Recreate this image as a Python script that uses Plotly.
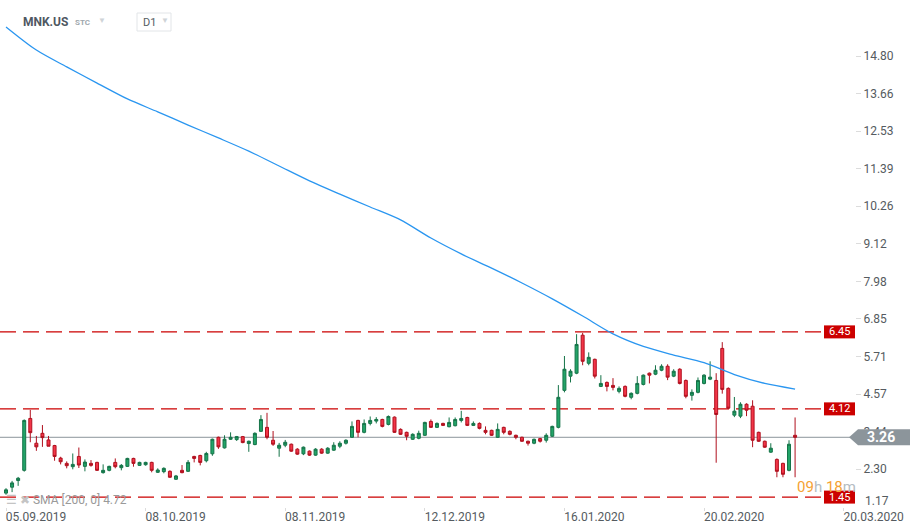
import plotly.graph_objects as go

# ---------------- data ----------------
opens = [1.57, 1.75, 1.95, 2.26, 3.83, 3.08, 3.38, 3.18, 3.01, 2.63,
         2.47, 2.37, 2.68, 2.38, 2.47, 2.50, 2.19, 2.26, 2.50, 2.34,
         2.38, 2.62, 2.41, 2.43, 2.50, 2.20, 2.22, 2.23, 1.99, 2.26,
         2.23, 2.68, 2.71, 2.55, 2.76, 3.26, 2.94, 3.20, 3.19, 3.28,
         3.07, 3.04, 3.44, 3.56, 3.17, 2.93, 3.02, 3.05, 2.90, 2.76,
         2.84, 2.72, 2.90, 2.78, 2.87, 2.99, 3.08, 3.26, 3.77, 3.41,
         3.68, 3.75, 3.80, 3.65, 3.87, 3.50, 3.41, 3.20, 3.23, 3.32,
         3.74, 3.56, 3.68, 3.58, 3.61, 3.77, 3.86, 3.62, 3.68, 3.47,
         3.47, 3.26, 3.56, 3.44, 3.32, 3.26, 3.14, 3.08, 3.22, 3.17,
         3.29, 3.56, 4.68, 5.11, 5.20, 6.35, 5.50, 5.62, 4.80, 4.92,
         4.83, 4.65, 4.80, 4.47, 4.59, 4.86, 5.20, 5.17, 5.29, 5.41,
         5.11, 5.32, 4.98, 4.53, 4.62, 4.89, 5.02, 4.98, 5.95, 4.74,
         3.93, 3.90, 4.26, 4.20, 3.41, 3.14, 2.81, 2.59, 2.47, 2.26,
         3.32]
highs = [1.72, 1.94, 2.06, 3.80, 4.09, 3.30, 3.63, 3.30, 3.03, 2.67,
         2.53, 2.77, 2.95, 2.59, 2.57, 2.52, 2.44, 2.40, 2.62, 2.45,
         2.64, 2.64, 2.52, 2.52, 2.52, 2.32, 2.35, 2.26, 2.12, 2.42,
         2.57, 2.70, 2.73, 2.82, 3.22, 3.28, 3.32, 3.41, 3.30, 3.30,
         3.16, 3.41, 3.93, 4.00, 3.45, 3.09, 3.18, 3.07, 2.93, 2.98,
         2.86, 2.93, 2.93, 2.96, 3.11, 3.14, 3.20, 3.74, 3.79, 3.80,
         3.89, 3.87, 3.82, 3.92, 3.89, 3.53, 3.43, 3.38, 3.46, 3.73,
         3.80, 3.71, 3.70, 3.86, 3.86, 4.06, 3.88, 3.74, 3.71, 3.59,
         3.49, 3.68, 3.58, 3.47, 3.34, 3.28, 3.16, 3.22, 3.24, 3.38,
         3.61, 4.84, 5.72, 5.32, 6.38, 6.42, 5.83, 5.64, 5.14, 4.95,
         5.05, 4.80, 4.83, 4.62, 5.11, 5.16, 5.22, 5.44, 5.47, 5.47,
         5.32, 5.35, 5.01, 4.71, 5.07, 5.17, 5.56, 5.20, 6.14, 4.77,
         4.48, 4.32, 4.29, 4.38, 3.43, 3.16, 3.08, 2.62, 2.49, 3.17,
         3.86]
lows = [1.52, 1.60, 1.79, 2.22, 3.11, 2.85, 2.97, 2.99, 2.55, 2.44,
        2.32, 2.29, 2.33, 2.23, 2.37, 2.24, 2.16, 2.23, 2.32, 2.26,
        2.36, 2.37, 2.39, 2.40, 2.20, 2.18, 2.17, 2.03, 1.97, 2.17,
        2.21, 2.50, 2.41, 2.50, 2.70, 2.91, 2.92, 3.18, 3.15, 3.08,
        2.82, 3.02, 3.42, 3.20, 3.00, 2.67, 2.96, 2.82, 2.73, 2.72,
        2.70, 2.70, 2.76, 2.76, 2.85, 2.93, 3.04, 3.24, 3.26, 3.38,
        3.62, 3.68, 3.56, 3.62, 3.39, 3.33, 3.17, 3.18, 3.20, 3.30,
        3.54, 3.54, 3.60, 3.56, 3.59, 3.71, 3.60, 3.60, 3.50, 3.35,
        3.30, 3.24, 3.35, 3.32, 3.20, 3.12, 3.01, 3.05, 3.10, 3.10,
        3.27, 3.53, 4.62, 4.92, 5.17, 5.44, 5.44, 5.04, 4.78, 4.65,
        4.68, 4.59, 4.47, 4.41, 4.56, 4.83, 4.89, 5.14, 5.26, 4.99,
        5.08, 4.86, 4.44, 4.37, 4.59, 4.86, 4.99, 2.49, 4.58, 4.12,
        3.87, 3.84, 3.90, 2.96, 3.12, 2.94, 2.79, 2.05, 2.05, 2.23,
        2.05]
closes = [1.67, 1.88, 2.02, 3.77, 3.40, 2.97, 3.25, 2.99, 2.68, 2.52,
          2.40, 2.44, 2.42, 2.51, 2.41, 2.26, 2.26, 2.38, 2.37, 2.41,
          2.62, 2.47, 2.50, 2.50, 2.26, 2.27, 2.32, 2.05, 2.09, 2.19,
          2.50, 2.62, 2.50, 2.77, 3.20, 2.97, 3.20, 3.26, 3.28, 3.10,
          3.14, 3.38, 3.80, 3.26, 3.05, 3.02, 3.11, 2.84, 2.75, 2.96,
          2.72, 2.90, 2.78, 2.93, 3.02, 3.08, 3.17, 3.59, 3.41, 3.68,
          3.77, 3.80, 3.59, 3.89, 3.41, 3.35, 3.29, 3.35, 3.38, 3.71,
          3.56, 3.68, 3.62, 3.71, 3.80, 3.83, 3.62, 3.68, 3.53, 3.41,
          3.32, 3.50, 3.41, 3.35, 3.26, 3.14, 3.08, 3.20, 3.14, 3.32,
          3.59, 4.47, 5.32, 5.26, 6.07, 5.56, 5.68, 5.11, 4.89, 4.80,
          4.77, 4.74, 4.50, 4.59, 4.89, 5.14, 5.14, 5.29, 5.41, 5.08,
          5.26, 4.89, 4.50, 4.62, 4.98, 5.14, 5.08, 3.95, 4.71, 4.14,
          4.05, 4.26, 4.08, 3.17, 3.14, 2.96, 2.93, 2.23, 2.14, 3.05,
          3.26]

# SMA(200) at every 5th bar
sma_idx = [0, 5, 10, 15, 20, 25, 30, 35, 40, 45, 50, 55, 60, 65, 70,
           75, 80, 85, 90, 95, 100, 105, 110, 115, 120, 125, 130]
sma_val = [15.68, 14.98, 14.47, 13.98, 13.50, 13.11, 12.71, 12.32, 11.92,
           11.47, 11.02, 10.62, 10.23, 9.84, 9.29, 8.81, 8.38, 7.93, 7.45,
           6.93, 6.39, 6.01, 5.75, 5.52, 5.16, 4.89, 4.72]

x_tick_idx = [0, 23, 46, 69, 92, 115, 138]
x_tick_text = ["05.09.2019", "08.10.2019", "08.11.2019", "12.12.2019",
               "16.01.2020", "20.02.2020", "20.03.2020"]
y_ticks = [1.17, 2.30, 3.44, 4.57, 5.71, 6.85, 7.98, 9.12, 10.26, 11.39,
           12.53, 13.66, 14.80]
levels = [6.45, 4.12, 1.45]
last_price = 3.26
symbol = "MNK.US"
sma_label = "SMA [200, 0] 4.72"

# ---------------- layout helpers ----------------
W, H = 922, 532
PR, PB = 855, 507          # plot area right / bottom in pixels
Y_LO, Y_HI = 1.150, 16.495
UNIT = PB / (Y_HI - Y_LO)  # px per price unit


def px(xp):
    return xp / PR


def py(yp):
    return 1 - yp / PB


FONT = "Roboto"
GREEN, GREEN_D = "#22a468", "#157348"
RED, RED_D = "#f23548", "#b0101e"
LEVEL_RED = "#cc0000"
TICK_COL = "#555b60"

fig = go.Figure()
fig.add_trace(go.Candlestick(
    x=list(range(len(opens))), open=opens, high=highs, low=lows, close=closes,
    increasing=dict(fillcolor=GREEN, line=dict(color=GREEN_D, width=1)),
    decreasing=dict(fillcolor=RED, line=dict(color=RED_D, width=1)),
    whiskerwidth=0, hoverinfo="skip", showlegend=False))
fig.add_trace(go.Scatter(
    x=sma_idx, y=sma_val, mode="lines",
    line=dict(color="#2a96f0", width=1.3, shape="spline", smoothing=0.8),
    hoverinfo="skip", showlegend=False))

shapes = []
annotations = []
for lv in levels:
    shapes.append(dict(type="line", xref="paper", yref="y", x0=0, x1=px(823),
                       y0=lv, y1=lv, line=dict(color=LEVEL_RED, width=1.2, dash="16px,7px"),
                       layer="below"))
    h = 6.5 / UNIT
    shapes.append(dict(type="rect", xref="paper", yref="y", x0=px(824), x1=px(855),
                       y0=lv - h, y1=lv + h, fillcolor=LEVEL_RED, line=dict(width=0),
                       layer="above"))
    annotations.append(dict(xref="paper", yref="y", x=px(839.5), y=lv, text=f"{lv:.2f}",
                            showarrow=False, font=dict(family=FONT, size=11, color="white"),
                            xanchor="center", yanchor="middle"))

# lowest y tick label sits a little higher than its tick, as in the reference
annotations.append(dict(xref="paper", yref="paper", x=px(863), y=py(501),
                        text=f"{y_ticks[0]:.2f}", showarrow=False,
                        font=dict(family=FONT, size=12, color=TICK_COL),
                        xanchor="left", yanchor="middle"))

# last price line + arrow label
shapes.append(dict(type="line", xref="paper", yref="y", x0=0, x1=px(850),
                   y0=last_price, y1=last_price, line=dict(color="#8c959b", width=1),
                   layer="below"))
hh = 8 / UNIT
shapes.append(dict(type="path", xref="paper", yref="y",
                   path=(f"M {px(849)},{last_price} L {px(858)},{last_price + hh} "
                         f"L {px(910)},{last_price + hh} L {px(910)},{last_price - hh} "
                         f"L {px(858)},{last_price - hh} Z"),
                   fillcolor="#8c959b", line=dict(width=0), layer="above"))
annotations.append(dict(xref="paper", yref="y", x=px(881), y=last_price,
                        text=f"<b>{last_price:.2f}</b>", showarrow=False,
                        font=dict(family=FONT, size=14, color="white"),
                        xanchor="center", yanchor="middle"))

# countdown
annotations.append(dict(xref="paper", yref="paper", x=px(795), y=py(487),
                        text=("<span style='color:#f5a233'>09</span><span style='color:#b4bcc2'>h</span> "
                              "<span style='color:#f5a233'>18</span><span style='color:#b4bcc2'>m</span>"),
                        showarrow=False, font=dict(family=FONT, size=15),
                        xanchor="left", yanchor="middle"))

# SMA legend
annotations.append(dict(xref="paper", yref="paper", x=px(4), y=py(500),
                        text="<span style='color:#c4c4c4'>☰ ✖</span> " + sma_label,
                        showarrow=False, font=dict(family=FONT, size=12, color="#9a9a9a"),
                        xanchor="left", yanchor="middle"))

# header
annotations.append(dict(xref="paper", yref="paper", x=px(21), y=py(22),
                        text=f"<b>{symbol}</b>", showarrow=False,
                        font=dict(family=FONT, size=12, color="#4f5862"),
                        xanchor="left", yanchor="middle"))
annotations.append(dict(xref="paper", yref="paper", x=px(73), y=py(22),
                        text="<b>STC</b>", showarrow=False,
                        font=dict(family=FONT, size=8, color="#a0a8ae"),
                        xanchor="left", yanchor="middle"))
annotations.append(dict(xref="paper", yref="paper", x=px(96), y=py(21),
                        text="▼", showarrow=False,
                        font=dict(family=FONT, size=8, color="#cfd4d8"),
                        xanchor="left", yanchor="middle"))
shapes.append(dict(type="rect", xref="paper", yref="paper", x0=px(137), x1=px(171),
                   y0=py(31), y1=py(13), fillcolor="white",
                   line=dict(color="#e2e5e8", width=1), layer="above"))
annotations.append(dict(xref="paper", yref="paper", x=px(141), y=py(22),
                        text="D1", showarrow=False,
                        font=dict(family=FONT, size=11, color="#555c63"),
                        xanchor="left", yanchor="middle"))
annotations.append(dict(xref="paper", yref="paper", x=px(159), y=py(21),
                        text="▼", showarrow=False,
                        font=dict(family=FONT, size=8, color="#cfd4d8"),
                        xanchor="left", yanchor="middle"))

fig.update_layout(
    width=W, height=H,
    margin=dict(l=0, r=W - PR, t=0, b=H - PB),
    paper_bgcolor="white", plot_bgcolor="white",
    showlegend=False, hovermode=False,
    font=dict(family=FONT),
    shapes=shapes, annotations=annotations,
    xaxis=dict(range=[-0.99, 139.87], tickvals=x_tick_idx, ticktext=x_tick_text,
               showgrid=False, zeroline=False, showline=False,
               ticks="outside", ticklen=3, tickcolor="#dcdcdc",
               tickfont=dict(family=FONT, size=12, color=TICK_COL),
               ticklabelshift=30, ticklabelstandoff=-4,
               rangeslider=dict(visible=False), fixedrange=True),
    yaxis=dict(side="right", range=[Y_LO, Y_HI], tickvals=y_ticks[1:],
               ticktext=[f"{v:.2f}" for v in y_ticks[1:]],
               showgrid=False, zeroline=False, showline=False,
               ticks="outside", ticklen=5, tickcolor="#dcdcdc",
               tickfont=dict(family=FONT, size=12, color=TICK_COL), fixedrange=True),
)

fig.write_html("out.html", config={"displayModeBar": False},
               post_script="document.body.style.margin='0';document.body.style.overflow='hidden';")
